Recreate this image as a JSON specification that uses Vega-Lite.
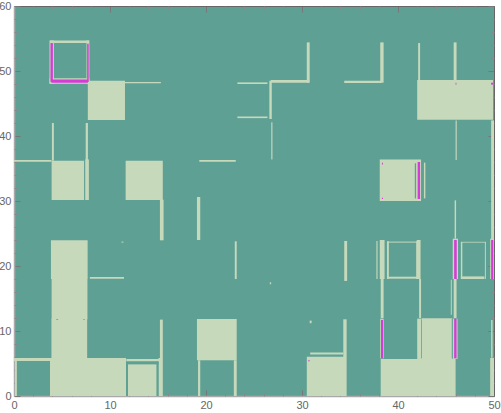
{
"$schema":"https://vega.github.io/schema/vega-lite/v6.json",
"width":480,"height":390,
"autosize":{"type":"none"},
"padding":{"left":14,"top":6,"right":7,"bottom":17},
"background":"white",
"view":{"stroke":null,"fill":"#5fa094"},
"config":{"axis":{"labelFont":"Liberation Sans","labelFontSize":11,"labelColor":"#666666","grid":false,"title":null,"labelFlush":false,"labelOverlap":false,"zindex":1}},
"resolve":{"axis":{"x":"independent","y":"independent"}},
"layer":[
{"data":{"values":[
{"a":3.7,"b":4.15,"c":48.05,"d":54.7,"k":"p"},
{"a":7.55,"b":7.85,"c":48.05,"d":54.7,"k":"p"},
{"a":3.75,"b":7.8,"c":54.3,"d":54.7,"k":"p"},
{"a":3.7,"b":7.85,"c":48.05,"d":48.9,"k":"p"},
{"a":7.69,"b":11.56,"c":42.45,"d":48.5,"k":"p"},
{"a":11.5,"b":15.3,"c":48.1,"d":48.32,"k":"p"},
{"a":23.27,"b":26.4,"c":48.0,"d":48.25,"k":"p"},
{"a":23.27,"b":26.4,"c":42.75,"d":43.0,"k":"p"},
{"a":26.6,"b":26.85,"c":42.6,"d":48.5,"k":"p"},
{"a":26.75,"b":30.75,"c":48.2,"d":48.6,"k":"p"},
{"a":30.5,"b":30.8,"c":48.2,"d":54.4,"k":"p"},
{"a":26.8,"b":26.92,"c":36.4,"d":42.1,"k":"p"},
{"a":34.4,"b":38.3,"c":48.15,"d":48.5,"k":"p"},
{"a":38.15,"b":38.5,"c":48.2,"d":54.4,"k":"p"},
{"a":42.1,"b":42.3,"c":48.5,"d":54.3,"k":"p"},
{"a":45.8,"b":46.1,"c":48.5,"d":54.4,"k":"p"},
{"a":42.0,"b":49.9,"c":42.5,"d":48.6,"k":"p"},
{"a":46.0,"b":46.12,"c":36.3,"d":42.4,"k":"p"},
{"a":49.7,"b":50,"c":24,"d":42.4,"k":"p"},
{"a":3.95,"b":4.15,"c":36.2,"d":42.0,"k":"p"},
{"a":7.47,"b":7.7,"c":36.2,"d":42.0,"k":"p"},
{"a":0,"b":3.9,"c":36.05,"d":36.3,"k":"p"},
{"a":3.92,"b":7.3,"c":30.15,"d":36.2,"k":"p"},
{"a":7.42,"b":7.8,"c":30.15,"d":36.4,"k":"p"},
{"a":11.63,"b":15.5,"c":30.15,"d":36.2,"k":"p"},
{"a":15.2,"b":15.58,"c":23.95,"d":30.2,"k":"p"},
{"a":19.06,"b":19.4,"c":24,"d":30.6,"k":"p"},
{"a":19.3,"b":23.1,"c":36.05,"d":36.3,"k":"p"},
{"a":38.1,"b":42.4,"c":30,"d":36.4,"k":"p"},
{"a":42.7,"b":42.85,"c":30.4,"d":35.9,"k":"p"},
{"a":45.9,"b":46.05,"c":24.2,"d":30.1,"k":"p"},
{"a":3.85,"b":7.67,"c":18,"d":23.95,"k":"p"},
{"a":3.92,"b":7.65,"c":11.8,"d":18,"k":"p"},
{"a":3.9,"b":7.62,"c":5.8,"d":11.9,"k":"p"},
{"a":3.75,"b":11.67,"c":0,"d":5.85,"k":"p"},
{"a":0,"b":3.8,"c":5.4,"d":5.85,"k":"p"},
{"a":0.1,"b":0.3,"c":0,"d":5.85,"k":"p"},
{"a":11.87,"b":14.86,"c":0,"d":4.9,"k":"p"},
{"a":11.7,"b":15.3,"c":5.3,"d":5.7,"k":"p"},
{"a":15.05,"b":15.5,"c":0,"d":5.85,"k":"p"},
{"a":15.2,"b":15.5,"c":5.8,"d":11.75,"k":"p"},
{"a":7.9,"b":11.46,"c":18.05,"d":18.3,"k":"p"},
{"a":11.2,"b":11.4,"c":23.6,"d":23.75,"k":"p"},
{"a":23.0,"b":23.2,"c":18,"d":23.8,"k":"p"},
{"a":19.06,"b":23.2,"c":5.5,"d":11.85,"k":"p"},
{"a":19.17,"b":19.4,"c":0,"d":5.5,"k":"p"},
{"a":22.9,"b":23.2,"c":0,"d":5.5,"k":"p"},
{"a":30.5,"b":34.65,"c":0,"d":6.05,"k":"p"},
{"a":30.85,"b":34.3,"c":6.4,"d":6.7,"k":"p"},
{"a":34.3,"b":34.65,"c":6,"d":11.8,"k":"p"},
{"a":30.8,"b":31.0,"c":11.2,"d":11.6,"k":"p"},
{"a":26.65,"b":26.78,"c":17.2,"d":17.5,"k":"p"},
{"a":34.4,"b":34.7,"c":17.7,"d":23.85,"k":"p"},
{"a":37.75,"b":37.87,"c":18,"d":23.85,"k":"p"},
{"a":38.1,"b":38.6,"c":18,"d":24,"k":"p"},
{"a":38.2,"b":38.5,"c":12,"d":18,"k":"p"},
{"a":38.15,"b":38.5,"c":5.8,"d":11.9,"k":"p"},
{"a":38.85,"b":39.05,"c":18,"d":23.8,"k":"p"},
{"a":38.85,"b":42,"c":23.6,"d":23.75,"k":"p"},
{"a":38.85,"b":42,"c":18.05,"d":18.35,"k":"p"},
{"a":41.9,"b":42.03,"c":18,"d":23.8,"k":"p"},
{"a":41.95,"b":42.35,"c":18,"d":24,"k":"p"},
{"a":42.2,"b":42.4,"c":12,"d":18,"k":"p"},
{"a":38.2,"b":46,"c":0,"d":5.7,"k":"p"},
{"a":42.5,"b":45.65,"c":5.7,"d":11.95,"k":"p"},
{"a":42,"b":42.5,"c":5.7,"d":11.9,"k":"p"},
{"a":45.5,"b":45.6,"c":12.5,"d":17.9,"k":"p"},
{"a":45.8,"b":46.1,"c":12,"d":18,"k":"p"},
{"a":45.7,"b":46.2,"c":5.7,"d":11.9,"k":"p"},
{"a":45.7,"b":46.25,"c":18,"d":24.2,"k":"p"},
{"a":46.55,"b":46.7,"c":18,"d":23.7,"k":"p"},
{"a":46.55,"b":49.15,"c":23.6,"d":23.72,"k":"p"},
{"a":46.55,"b":49.0,"c":18,"d":18.4,"k":"p"},
{"a":49.05,"b":49.15,"c":18,"d":23.7,"k":"p"},
{"a":49.6,"b":50,"c":18,"d":24.2,"k":"p"},
{"a":49.7,"b":49.85,"c":5.9,"d":11.7,"k":"p"},
{"a":49.6,"b":50,"c":0,"d":5.85,"k":"p"},
{"a":4.4,"b":4.6,"c":11.75,"d":11.85,"k":"t"},
{"a":7.2,"b":7.4,"c":11.75,"d":11.85,"k":"t"},
{"a":41.75,"b":41.88,"c":30.4,"d":35.8,"k":"t"},
{"a":14.86,"b":15.05,"c":0,"d":5.3,"k":"t"},
{"a":11.67,"b":11.87,"c":0,"d":5.3,"k":"t"},
{"a":11.87,"b":15.05,"c":4.9,"d":5.3,"k":"t"},
{"a":42.42,"b":42.5,"c":5.8,"d":11.8,"k":"t"},
{"a":45.6,"b":45.7,"c":5.8,"d":11.9,"k":"t"},
{"a":3.8,"b":4.05,"c":48.3,"d":54.3,"k":"m"},
{"a":7.62,"b":7.78,"c":48.3,"d":54.2,"k":"m"},
{"a":3.9,"b":7.7,"c":48.2,"d":48.7,"k":"m"},
{"a":42.05,"b":42.3,"c":30.3,"d":36,"k":"m"},
{"a":38.33,"b":38.43,"c":35.6,"d":35.9,"k":"m"},
{"a":38.33,"b":38.43,"c":30.3,"d":30.5,"k":"m"},
{"a":38.23,"b":38.44,"c":5.8,"d":11.7,"k":"m"},
{"a":45.85,"b":46.1,"c":5.8,"d":11.9,"k":"m"},
{"a":45.85,"b":46.12,"c":18,"d":24,"k":"m"},
{"a":49.7,"b":49.93,"c":18,"d":24,"k":"m"},
{"a":46.0,"b":46.08,"c":47.9,"d":48.2,"k":"m"},
{"a":49.7,"b":49.9,"c":47.9,"d":48.2,"k":"m"},
{"a":30.65,"b":30.8,"c":5.35,"d":5.5,"k":"m"}
]},
"mark":{"type":"rect","strokeWidth":0},
"encoding":{
"x":{"field":"a","type":"quantitative","scale":{"domain":[0,50],"nice":false,"zero":false},"axis":{"orient":"bottom","values":[0,10,20,30,40,50],"tickSize":-6,"labelPadding":9,"tickColor":"#777777","domainColor":"#aaaaaa","domainWidth":1.5,"format":"d"}},
"x2":{"field":"b"},
"y":{"field":"c","type":"quantitative","scale":{"domain":[0,60],"nice":false,"zero":false},"axis":{"orient":"left","values":[0,10,20,30,40,50,60],"tickSize":-6,"labelPadding":9,"tickColor":"#777777","domainColor":"#aaaaaa","domainWidth":1.5,"format":"d"}},
"y2":{"field":"d"},
"color":{"field":"k","type":"nominal","legend":null,"scale":{"domain":["p","t","m"],"range":["#c6d9bb","#5fa094","#d63bd6"]}}
}},
{"data":{"values":[{"a":0,"b":0,"c":0,"d":0}]},
"mark":{"type":"rect","opacity":0},
"encoding":{
"x":{"field":"a","type":"quantitative","axis":{"orient":"bottom","values":[2,4,6,8,12,14,16,18,22,24,26,28,32,34,36,38,42,44,46,48],"tickSize":-3,"labels":false,"domain":false,"tickColor":"#888888"}},
"x2":{"field":"b"},
"y":{"field":"c","type":"quantitative","axis":{"orient":"left","values":[2,4,6,8,12,14,16,18,22,24,26,28,32,34,36,38,42,44,46,48,52,54,56,58],"tickSize":-3,"labels":false,"domain":false,"tickColor":"#888888"}},
"y2":{"field":"d"}
}},
{"data":{"values":[{"a":0,"b":0,"c":0,"d":0}]},
"mark":{"type":"rect","opacity":0},
"encoding":{
"x":{"field":"a","type":"quantitative","axis":{"orient":"top","values":[0,10,20,30,40,50],"tickSize":-6,"labels":false,"tickColor":"#777777","domainColor":"#666666","domainWidth":1}},
"x2":{"field":"b"},
"y":{"field":"c","type":"quantitative","axis":{"orient":"right","values":[0,10,20,30,40,50,60],"tickSize":-6,"labels":false,"tickColor":"#777777","domainColor":"#666666","domainWidth":1}},
"y2":{"field":"d"}
}},
{"data":{"values":[{"a":0,"b":0,"c":0,"d":0}]},
"mark":{"type":"rect","opacity":0},
"encoding":{
"x":{"field":"a","type":"quantitative","axis":{"orient":"top","values":[2,4,6,8,12,14,16,18,22,24,26,28,32,34,36,38,42,44,46,48],"tickSize":-3,"labels":false,"domain":false,"tickColor":"#888888"}},
"x2":{"field":"b"},
"y":{"field":"c","type":"quantitative","axis":{"orient":"right","values":[2,4,6,8,12,14,16,18,22,24,26,28,32,34,36,38,42,44,46,48,52,54,56,58],"tickSize":-3,"labels":false,"domain":false,"tickColor":"#888888"}},
"y2":{"field":"d"}
}}
]
}
